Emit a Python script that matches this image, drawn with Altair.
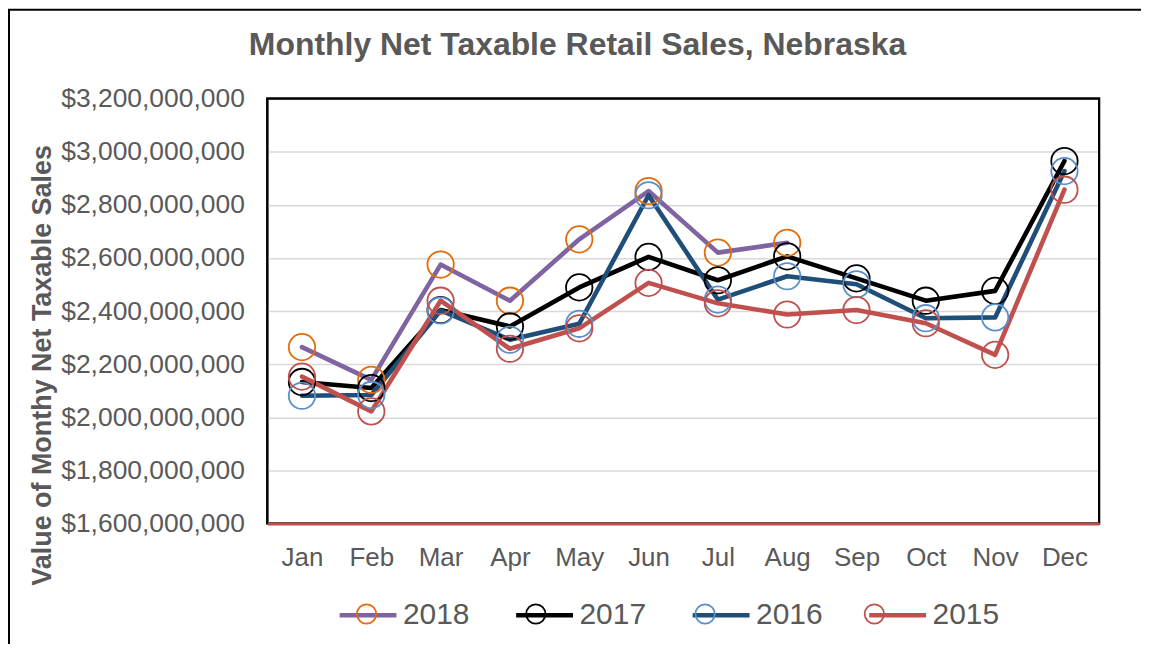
import altair as alt
import pandas as pd

months = ["Jan", "Feb", "Mar", "Apr", "May", "Jun", "Jul", "Aug", "Sep", "Oct", "Nov", "Dec"]
years = ["2018", "2017", "2016", "2015"]

sales_2018 = [2264e6, 2141e6, 2575e6, 2439e6, 2670e6, 2852e6, 2620e6, 2657e6]
sales_2017 = [2133e6, 2110e6, 2404e6, 2342e6, 2489e6, 2604e6, 2516e6, 2606e6, 2523e6, 2439e6, 2476e6, 2965e6]
sales_2016 = [2081e6, 2084e6, 2402e6, 2292e6, 2352e6, 2836e6, 2443e6, 2531e6, 2501e6, 2373e6, 2376e6, 2927e6]
sales_2015 = [2153e6, 2022e6, 2439e6, 2258e6, 2335e6, 2506e6, 2429e6, 2387e6, 2404e6, 2354e6, 2235e6, 2857e6]

line_colors = ["#8064A2", "#000000", "#1F4E79", "#C0504D"]
marker_colors = ["#E46C0A", "#000000", "#5B8FCB", "#C0504D"]

y_ticks = [1.6e9, 1.8e9, 2.0e9, 2.2e9, 2.4e9, 2.6e9, 2.8e9, 3.0e9, 3.2e9]

title_text = "Monthly Net Taxable Retail Sales, Nebraska"
y_title = "Value of Monthy Net Taxable Sales"

FONT = "Liberation Sans"
GRAY = "#595959"

marker_keys = ["m" + y for y in years]

rows = []
for yr, mk, vals in zip(years, marker_keys, [sales_2018, sales_2017, sales_2016, sales_2015]):
    for m, v in zip(months, vals):
        rows.append({"Month": m, "Year": yr, "YearM": mk, "Sales": v})
df = pd.DataFrame(rows)

W, H = 834, 426

x_enc = alt.X(
    "Month:O", sort=months,
    scale=alt.Scale(domain=months, padding=0.5),
    axis=alt.Axis(title=None, labelAngle=0, labelFontSize=26, labelColor=GRAY, labelFont=FONT,
                  labelPadding=21, ticks=False, domainColor="#C0504D", domainWidth=3,
                  grid=False, zindex=1),
)
y_enc = alt.Y(
    "Sales:Q",
    scale=alt.Scale(domain=[1.6e9, 3.2e9], nice=False, zero=False),
    axis=alt.Axis(title=y_title, values=y_ticks, format="$,.0f", labelFontSize=26.5,
                  labelColor=GRAY, labelFont=FONT, labelPadding=23, labelLimit=400,
                  ticks=False, domain=False,
                  gridColor="#D9D9D9", gridWidth=1.5,
                  titleFontSize=27, titleFontWeight="bold", titleColor=GRAY, titleFont=FONT,
                  titleX=-217, titleY=267, titleAngle=270, titleBaseline="alphabetic",
                  titleAlign="center"),
)

base = alt.Chart(df)

LEG_X = 70
LEG_Y = 487
COL_PAD = 37
LABEL_W = 66.72  # width of a 4-digit label at 30px

lines = base.mark_line(strokeWidth=4.6, strokeJoin="round", strokeCap="round").encode(
    x=x_enc, y=y_enc,
    color=alt.Color(
        "Year:N", sort=years,
        scale=alt.Scale(domain=years, range=line_colors),
        legend=alt.Legend(title=None, orient="none", legendX=LEG_X, legendY=LEG_Y,
                          direction="horizontal", symbolType="stroke", symbolSize=3249,
                          symbolStrokeWidth=4.6, labelFontSize=30, labelColor=GRAY,
                          labelFont=FONT, labelOffset=4, columnPadding=COL_PAD, padding=0),
    ),
)

circle_path = "M -0.34 0 A 0.34 0.34 0 1 0 0.34 0 A 0.34 0.34 0 1 0 -0.34 0 Z"
points = base.mark_point(filled=False, size=700, strokeWidth=1.8, opacity=1).encode(
    x=x_enc, y=y_enc,
    stroke=alt.Stroke(
        "YearM:N", sort=marker_keys,
        scale=alt.Scale(domain=marker_keys, range=marker_colors),
        legend=alt.Legend(title=None, orient="none", legendX=LEG_X, legendY=LEG_Y,
                          direction="horizontal", symbolType=circle_path, symbolSize=3249,
                          symbolStrokeWidth=1.8, symbolOpacity=1, symbolFillColor="transparent",
                          labelFontSize=30, labelFont=FONT, labelExpr="''",
                          labelOffset=6.8, columnPadding=COL_PAD + LABEL_W, padding=0),
    ),
)

deco = pd.DataFrame({"t": [title_text]})
title = alt.Chart(deco).mark_text(
    font=FONT, fontSize=32, fontWeight="bold", color=GRAY, align="center", baseline="alphabetic"
).encode(text="t:N", x=alt.value(311), y=alt.value(-43.7))

frame = alt.Chart(deco).mark_rect(fill="transparent", stroke="black", strokeWidth=2).encode(
    x=alt.value(-259), x2=alt.value(1000), y=alt.value(-89), y2=alt.value(800)
)

plot_frame = alt.Chart(deco).mark_rect(fill="transparent", stroke="black", strokeWidth=2.2).encode(
    x=alt.value(0), x2=alt.value(W), y=alt.value(0), y2=alt.value(H)
)

chart = alt.layer(frame, plot_frame, lines, points, title).properties(
    width=W, height=H,
    padding={"left": 260, "top": 90, "right": 42, "bottom": 120},
    autosize=alt.AutoSizeParams(type="none"),
).configure(font=FONT).configure_view(stroke="black", strokeWidth=2)

chart.save("out.html", embed_options={"renderer": "svg", "actions": False})
